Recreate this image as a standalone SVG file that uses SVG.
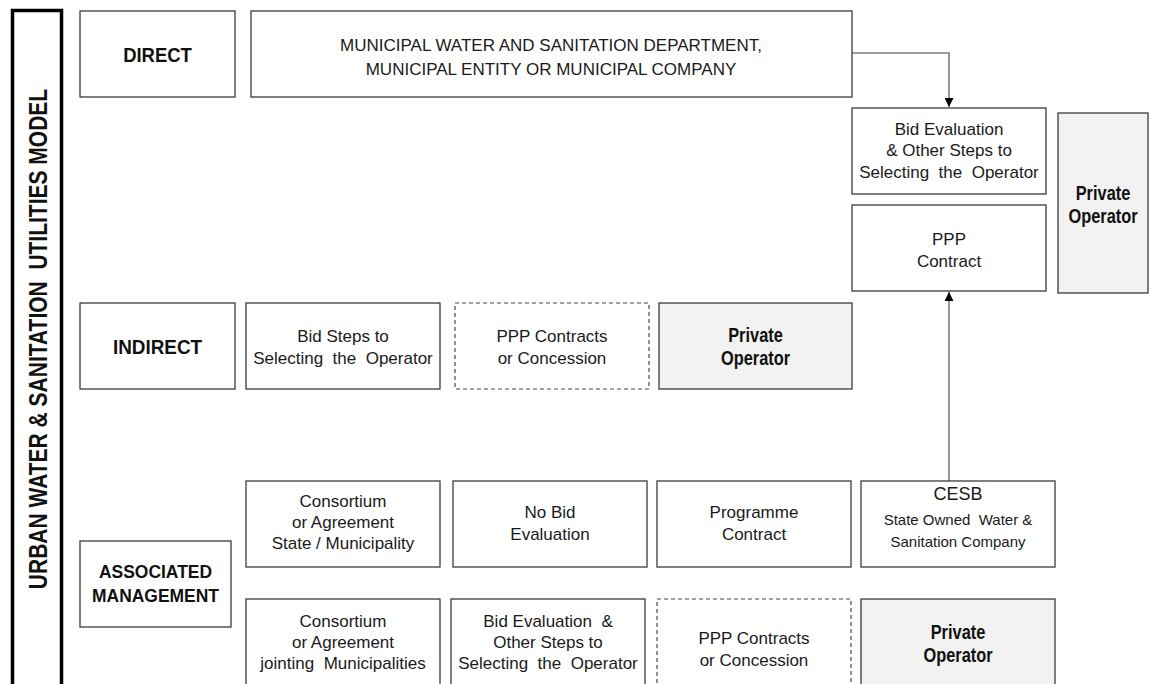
<svg xmlns="http://www.w3.org/2000/svg" width="1150" height="684" viewBox="0 0 1150 684">
  <style>
    .box { fill: #ffffff; stroke: #3a3a3a; stroke-width: 1.3; }
    .dash { fill: #ffffff; stroke: #4a4a4a; stroke-width: 1.2; stroke-dasharray: 4 3; }
    .grey { fill: #f2f2f2; stroke: #3a3a3a; stroke-width: 1.3; }
    .bar { fill: #ffffff; stroke: #000000; stroke-width: 3.5; }
    text { white-space: pre; }
    .t { font-family: "Liberation Sans", Arial, sans-serif; font-size: 17px; fill: #1a1a1a; text-anchor: middle; }
    .s { font-size: 15px; }
    .c { font-size: 18px; }
    .b { font-family: "Liberation Sans", Arial, sans-serif; font-size: 20px; font-weight: bold; fill: #111111; text-anchor: middle; }
    .h { font-family: "Liberation Sans", Arial, sans-serif; font-size: 21px; font-weight: bold; fill: #111111; text-anchor: middle; }
    .a { font-family: "Liberation Sans", Arial, sans-serif; font-size: 18px; font-weight: bold; fill: #111111; text-anchor: middle; }
    .title { font-family: "Liberation Sans", Arial, sans-serif; font-size: 25px; font-weight: bold; fill: #111111; text-anchor: middle; }
    .wire { fill: none; stroke: #7f7f7f; stroke-width: 1.6; }
  </style>
  <defs>
    <marker id="arrow" viewBox="0 0 10 10" refX="10" refY="5" markerWidth="9" markerHeight="9" markerUnits="userSpaceOnUse" orient="auto">
      <path d="M0,0 L10,5 L0,10 Z" fill="#000000"/>
    </marker>
  </defs>

  <rect width="1150" height="684" fill="#ffffff"/>

  <!-- side title -->
  <g id="model-title">
    <rect class="bar" x="12.5" y="10.5" width="49" height="690"/>
    <text class="title" transform="translate(47,339) rotate(-90) scale(0.84,1)">URBAN WATER &amp; SANITATION  UTILITIES MODEL</text>
  </g>

  <!-- connectors -->
  <g id="connectors">
    <path class="wire" d="M852,53 H949 V107" marker-end="url(#arrow)"/>
    <path class="wire" d="M949,481 V292" marker-end="url(#arrow)"/>
  </g>

  <!-- DIRECT row -->
  <g id="direct">
    <rect class="box" x="80" y="11" width="155" height="86"/>
    <text class="h" transform="translate(157.5,62) scale(0.88,1)">DIRECT</text>
  </g>
  <g id="municipal">
    <rect class="box" x="251" y="11" width="601" height="86"/>
    <text class="t" x="551" y="51">MUNICIPAL WATER AND SANITATION DEPARTMENT,</text>
    <text class="t" x="551" y="75">MUNICIPAL ENTITY OR MUNICIPAL COMPANY</text>
  </g>
  <g id="bid-evaluation-top">
    <rect class="box" x="852" y="108" width="194" height="86"/>
    <text class="t" x="949" y="135">Bid Evaluation</text>
    <text class="t" x="949" y="156">&amp; Other Steps to</text>
    <text class="t" x="949" y="178">Selecting  the  Operator</text>
  </g>
  <g id="ppp-contract">
    <rect class="box" x="852" y="205" width="194" height="86"/>
    <text class="t" x="949" y="245">PPP</text>
    <text class="t" x="949" y="267">Contract</text>
  </g>
  <g id="private-operator-top">
    <rect class="grey" x="1058" y="113" width="90" height="180"/>
    <text class="b" transform="translate(1103,200) scale(0.82,1)">Private</text>
    <text class="b" transform="translate(1103,223) scale(0.82,1)">Operator</text>
  </g>

  <!-- INDIRECT row -->
  <g id="indirect">
    <rect class="box" x="80" y="303" width="155" height="86"/>
    <text class="h" transform="translate(157.5,354) scale(0.9,1)">INDIRECT</text>
  </g>
  <g id="bid-steps">
    <rect class="box" x="246" y="303" width="194" height="86"/>
    <text class="t" x="343" y="342">Bid Steps to</text>
    <text class="t" x="343" y="364">Selecting  the  Operator</text>
  </g>
  <g id="ppp-concession-indirect">
    <rect class="dash" x="455" y="303" width="194" height="86"/>
    <text class="t" x="552" y="342">PPP Contracts</text>
    <text class="t" x="552" y="364">or Concession</text>
  </g>
  <g id="private-operator-indirect">
    <rect class="grey" x="659" y="303" width="193" height="86"/>
    <text class="b" transform="translate(755.5,342) scale(0.82,1)">Private</text>
    <text class="b" transform="translate(755.5,365) scale(0.82,1)">Operator</text>
  </g>

  <!-- ASSOCIATED MANAGEMENT rows -->
  <g id="associated">
    <rect class="box" x="80" y="541" width="151" height="86"/>
    <text class="a" transform="translate(155.5,578) scale(0.97,1)">ASSOCIATED</text>
    <text class="a" transform="translate(155.5,602) scale(0.97,1)">MANAGEMENT</text>
  </g>
  <g id="consortium-state">
    <rect class="box" x="246" y="481" width="194" height="86"/>
    <text class="t" x="343" y="507">Consortium</text>
    <text class="t" x="343" y="528">or Agreement</text>
    <text class="t" x="343" y="549">State / Municipality</text>
  </g>
  <g id="no-bid">
    <rect class="box" x="453" y="481" width="194" height="86"/>
    <text class="t" x="550" y="518">No Bid</text>
    <text class="t" x="550" y="540">Evaluation</text>
  </g>
  <g id="programme-contract">
    <rect class="box" x="657" y="481" width="194" height="86"/>
    <text class="t" x="754" y="518">Programme</text>
    <text class="t" x="754" y="540">Contract</text>
  </g>
  <g id="cesb">
    <rect class="box" x="861" y="481" width="194" height="86"/>
    <text class="t c" x="958" y="500">CESB</text>
    <text class="t s" x="958" y="525">State Owned  Water &amp;</text>
    <text class="t s" x="958" y="547">Sanitation Company</text>
  </g>
  <g id="consortium-municipalities">
    <rect class="box" x="246" y="599" width="194" height="100"/>
    <text class="t" x="343" y="627">Consortium</text>
    <text class="t" x="343" y="648">or Agreement</text>
    <text class="t" x="343" y="669">jointing  Municipalities</text>
  </g>
  <g id="bid-evaluation-associated">
    <rect class="box" x="451" y="599" width="194" height="100"/>
    <text class="t" x="548" y="627">Bid Evaluation  &amp;</text>
    <text class="t" x="548" y="648">Other Steps to</text>
    <text class="t" x="548" y="669">Selecting  the  Operator</text>
  </g>
  <g id="ppp-concession-associated">
    <rect class="dash" x="657" y="599" width="194" height="100"/>
    <text class="t" x="754" y="644">PPP Contracts</text>
    <text class="t" x="754" y="666">or Concession</text>
  </g>
  <g id="private-operator-associated">
    <rect class="grey" x="861" y="599" width="194" height="100"/>
    <text class="b" transform="translate(958,639) scale(0.82,1)">Private</text>
    <text class="b" transform="translate(958,662) scale(0.82,1)">Operator</text>
  </g>
</svg>
